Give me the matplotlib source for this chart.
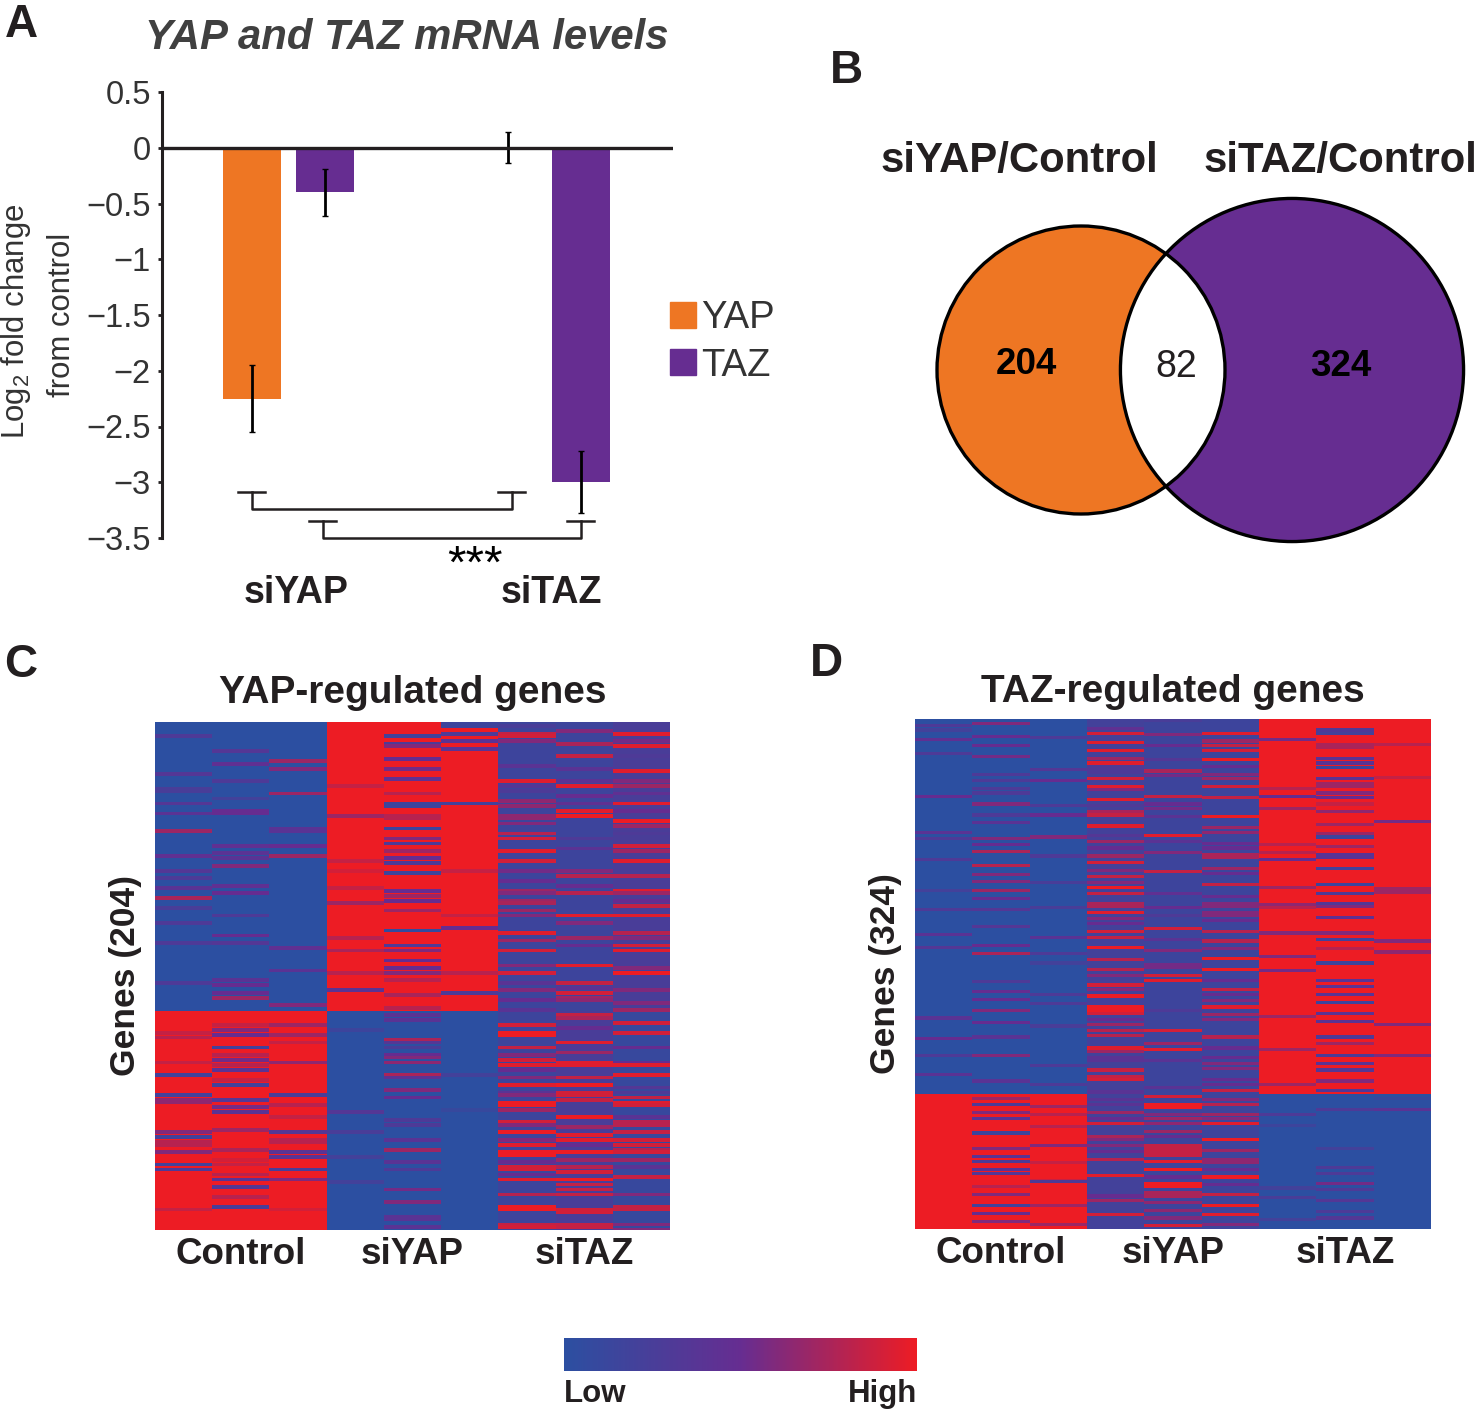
#YAP and TAZ knockdown figure, four panels
import numpy as np
import matplotlib
matplotlib.use('Agg')
import matplotlib.pyplot as plt
from matplotlib.colors import LinearSegmentedColormap
from matplotlib.patches import Circle, Patch

plt.rcParams['font.family'] = ['Liberation Sans', 'DejaVu Sans']
plt.rcParams['mathtext.default'] = 'regular'

W, H = 1478, 1412
ORANGE = '#EE7623'
PURPLE = '#662D91'
DARK = '#231F20'

#panel A
groups = ['siYAP', 'siTAZ']
series = ['YAP', 'TAZ']
yap_means = [-2.25, 0.0]
taz_means = [-0.40, -3.0]
yap_errs = [0.30, 0.14]
taz_errs = [0.21, 0.28]
y_ticks = [0.5, 0, -0.5, -1, -1.5, -2, -2.5, -3, -3.5]
y_tick_labels = ['0.5', '0', '\u22120.5', '\u22121', '\u22121.5', '\u22122', '\u22122.5', '\u22123', '\u22123.5']

#panel B
only_yap = 204
both = 82
only_taz = 324

#panels C and D
samples = ['Control', 'siYAP', 'siTAZ']
c_rows = 204
c_split = 116
d_rows = 324
d_split = 238
#base level of each column above and below the split
c_base_top = [0, 0, 0, 1, 1, 1, .15, .15, .25]
c_base_bottom = [1, 1, 1, 0, 0, 0, .15, .25, .1]
d_base_top = [0, 0, 0, .2, .15, .15, 1, 1, 1]
d_base_bottom = [1, 1, 1, .2, .15, .15, 0, 0, 0]

c_stripes = [
    [(5,.3),(20,.35),(26,.25),(27,.25),(32,.35),(36,.4),(43,.7),(53,.45),(59,.35),(62,.3),(66,.4),(70,.75),(74,.25),(80,.3),(88,.3),(104,.3),
     (124,.85),(126,.8),(136,.85),(141,.2),(149,.2),(151,.65),(152,.65),(164,.6),(166,.2),(168,.8),(169,.8),(172,.6),(177,.2),(179,.3),(195,.85)],
    [(11,.35),(16,.45),(23,.3),(30,.2),(35,.5),(36,.5),(49,.45),(52,.4),(54,.4),(57,.6),(65,.45),(68,.5),(77,.3),(85,.5),(88,.35),(103,.4),(105,.5),(108,.5),(110,.7),
     (121,.85),(123,.6),(125,.5),(130,.2),(133,.8),(135,.55),(137,.8),(139,.4),(143,.85),(145,.2),(151,.35),(154,.55),(156,.4),(163,.7),(171,.75),(175,.9),(177,.85),(181,.8),(183,.4),(186,.35),(190,.8),(194,.25)],
    [(15,.7),(18,.6),(28,.7),(42,.4),(43,.4),(49,.5),(53,.7),(90,.45),(99,.4),(113,.6),
     (121,.7),(125,.7),(128,.85),(136,.65),(149,.25),(153,.8),(158,.85),(164,.35),(167,.8),(168,.8),(172,.4),(174,.4),(179,.25),(183,.6),(195,.9)],
    [(25,.85),(37,.7),(55,.85),(59,.9),(66,.85),(72,.7),(86,.8),(91,.75),(100,.8),(107,.4),
     (123,.15),(156,.35),(164,.25),(174,.2),(184,.2)],
    [(5,.2),(8,.3),(9,.6),(14,.5),(18,.55),(22,.45),(28,.8),(32,.15),(33,.15),(37,.8),(38,.8),(42,.15),(46,.6),(48,.3),(51,.7),(54,.5),(56,.3),(60,.15),(67,.5),(69,.7),(71,.5),(75,.7),(83,.05),(89,.3),(91,.6),(95,.5),(98,.5),(100,.6),(103,.8),(109,.75),(114,.8),
     (117,.4),(119,.4),(127,.75),(128,.35),(130,.25),(133,.5),(134,.6),(136,.65),(141,.75),(142,.4),(147,.6),(150,.5),(159,.3),(161,.3),(167,.4),(171,.7),(176,.4),(179,.3),(187,.55),(192,.6),(198,.4),(199,.4),(202,.4)],
    [(0,.15),(1,.15),(4,.3),(7,.4),(10,.4),(32,.2),(59,.85),(77,.85),(82,.5),(100,.8),(108,.3),
     (141,.2),(155,.1)],
    [(1,.25),(4,.85),(5,.9),(7,.6),(17,.4),(23,.95),(25,.35),(27,.3),(31,.65),(33,.65),(37,.65),(38,.65),(40,.6),(44,.8),(46,.9),(51,.95),(55,.9),(59,.55),(63,.5),(67,.7),(68,.6),(71,.7),(72,.75),(75,.7),(77,.6),(84,.95),(87,.7),(91,.9),(97,.6),(100,.9),(104,.4),(107,.6),(111,.5),(115,.4),
     (121,.9),(124,1),(125,1),(130,.85),(133,.6),(135,.9),(137,.95),(139,.5),(142,.6),(145,.95),(148,.4),(149,.6),(152,1),(153,1),(155,.7),(160,.9),(161,.6),(164,1),(167,.6),(169,.95),(172,1),(173,1),(176,.5),(178,.9),(179,.9),(181,.5),(183,.95),(189,.8),(194,1),(195,1),(201,.85),(202,.9)],
    [(3,.6),(8,.75),(13,.85),(18,.4),(23,.4),(25,.95),(29,.5),(32,.45),(35,.95),(37,1),(46,.3),(50,.4),(59,.6),(61,.8),(65,.5),(68,.8),(77,.95),(80,.6),(86,.7),(89,.5),(97,.95),(104,.85),(106,.4),(108,.9),(110,.7),(111,.65),
     (117,.85),(118,.75),(122,.5),(128,.95),(130,.3),(132,.7),(136,.95),(137,.95),(142,.85),(145,1),(148,.9),(149,.9),(151,.85),(158,1),(162,.7),(165,.95),(167,.95),(169,.5),(172,1),(175,.7),(178,.8),(180,.9),(183,1),(185,.85),(187,.85),(189,.85),(195,.9),(196,.9),(201,.85),(202,.85)],
    [(4,.95),(7,.55),(9,.95),(13,.3),(19,.95),(23,.6),(25,.7),(28,.45),(32,.95),(35,.5),(39,1),(41,.7),(44,.3),(49,.9),(51,.7),(55,.95),(61,.8),(67,.95),(68,.7),(71,.5),(73,.85),(77,.95),(84,.8),(86,.6),(89,.9),(91,.95),(98,.6),(100,1),(107,.6),(112,.6),(115,.7),
     (120,.9),(124,.9),(130,.5),(136,.5),(137,.95),(141,.95),(146,.35),(148,.3),(150,.85),(152,.95),(153,.9),(158,.4),(160,.8),(161,.8),(164,.85),(167,.9),(169,.9),(171,.8),(172,.9),(175,.7),(178,.4),(182,.85),(189,.6),(194,.85),(195,.85),(201,.6),(203,.6)],
]

d_stripes = [
    [(3,.3),(6,.2),(12,.45),(21,.3),(48,.5),(71,.4),(75,.3),(88,.3),(108,.2),(120,.3),(136,.4),(144,.35),(189,.4),(202,.5),(213,.3),(225,.4)],
    [(2,.6),(10,.5),(16,.5),(23,.55),(34,.3),(38,.3),(43,.3),(46,.3),(53,.6),(60,.3),(65,.4),(75,.6),(79,.5),(83,.75),(92,.8),(98,.6),(102,.6),(108,.7),(113,.5),(120,.35),(131,.35),(143,.5),(148,.75),(166,.3),(172,.5),(177,.5),(184,.6),(192,.5),(201,.4),(213,.6),(229,.4),
     (240,.7),(244,.3),(249,.6),(253,.4),(262,.15),(272,.6),(277,.4),(280,.3),(285,.4),(288,.35),(296,.8),(301,.6),(308,.2),(313,.5),(318,.6)],
    [(11,.3),(31,.35),(38,.5),(54,.3),(60,.5),(74,.6),(86,.3),(103,.25),(119,.25),(138,.4),(148,.3),(154,.2),(174,.3),(180,.3),(194,.25),(219,.3),(231,.3),
     (245,.7),(250,.8),(258,.8),(270,.6),(281,.85),(292,.85),(293,.3),(308,.7),(320,.7)],
    [(5,.45),(8,.9),(14,.95),(19,.95),(24,.7),(27,.95),(29,.3),(31,.3),(33,.3),(37,.9),(42,.95),(44,.6),(50,.95),(54,.3),(58,.75),(60,.85),(67,.95),(73,.35),(77,.7),(81,.5),(86,.7),(90,.9),(95,.6),(99,.85),(103,.6),(106,1),(110,.85),(116,.75),(118,.75),(122,.95),(126,.6),(129,.5),(134,.9),(138,.85),(144,1),(152,.8),(158,.8),(162,.6),
     (168,.9),(171,.6),(175,1),(182,1),(184,1),(186,.9),(190,.5),(193,.7),(197,.8),(200,.8),(208,.95),(210,.7),(214,.4),(216,.4),(222,.85),(226,.85),(228,.9),(236,.4),
     (241,.4),(244,.4),(249,.7),(253,.5),(256,.9),(264,.75),(266,.6),(270,.6),(274,.5),(279,.8),(289,.95),(302,.5),(305,.7),(314,.9)],
    [(0,.25),(9,.6),(16,.5),(25,.35),(32,.75),(35,.55),(48,.85),(53,.5),(56,.55),(61,.4),(73,.95),(77,.4),(84,.6),(96,.85),(110,.45),(119,.5),(124,.3),(132,.9),(139,.4),(146,.6),(155,.55),(157,.55),(162,.9),(165,.95),(184,.3),(197,.9),(205,.7),(209,.95),(216,.4),(233,.4),
     (239,.9),(244,1),(246,1),(250,.6),(253,.7),(256,.65),(261,.7),(264,.5),(270,.85),(272,.85),(274,.85),(276,.85),(280,.95),(285,1),(290,.5),(294,1),(296,1),(300,.75),(302,.75),(306,.65),(311,.65),(316,.6),(321,.9)],
    [(8,.95),(13,.7),(16,.85),(19,.9),(25,1),(29,.5),(34,.6),(37,.7),(42,.9),(49,.85),(61,1),(68,.7),(71,.65),(78,.5),(81,.5),(85,.75),(87,.75),(94,.7),(97,.5),(104,.85),(112,.5),(116,.6),(118,.6),(122,.6),(124,.6),(127,.5),(134,.8),(140,.8),(145,.6),(151,1),(158,1),(165,.5),(171,.85),(174,.5),(178,.6),(182,.95),(187,.7),(190,.6),(201,.8),(208,.5),(214,.5),(218,.6),(221,.6),(228,.5),(231,.5),(235,.85),
     (241,.6),(244,.8),(250,.7),(253,.6),(256,.95),(266,1),(273,.7),(279,.65),(281,.65),(285,.5),(290,1),(295,.5),(301,.85),(308,1),(314,.95),(320,.6)],
    [(12,.55),(43,.8),(48,.5),(56,.7),(79,.8),(84,.8),(88,.5),(106,.7),(117,.65),(119,.8),(135,.6),(150,.6),(159,.55),(188,.7),(209,.7),(231,.7),
     (250,.3),(257,.15),(297,.2),(303,.25),(317,.2)],
    [(6,.3),(8,.2),(15,.75),(17,.75),(24,.4),(27,.4),(30,.15),(37,.4),(40,.7),(42,.7),(46,.6),(49,.5),(53,.85),(58,.65),(66,.7),(72,.7),(74,.15),(80,.7),(85,.4),(87,.4),(94,.2),(104,.15),(110,.3),(116,.35),(118,.6),(125,.45),(135,.6),(139,.2),(145,.8),(154,.15),(165,.4),(169,.4),(174,.4),(179,.15),(186,.4),(191,.4),(201,.3),(205,.7),(213,.3),(218,.4),(222,.35),(229,.6),(235,.35),
     (247,.3),(272,.2),(284,.3),(288,.3),(294,.55),(298,.3),(305,.35),(312,.3),(316,.35)],
    [(15,.8),(36,.85),(64,.55),(107,.7),(109,.7),(140,.6),(147,.65),(193,.6),(213,.6),
     (240,.1),(247,.4)],
]


#pixel box of the reference to figure fractions
def box(x0, y0, x1, y1):
    return [x0 / W, 1 - y1 / H, (x1 - x0) / W, (y1 - y0) / H]


#build one heatmap matrix on a half row grid, thick is how many half rows a stripe covers
def build(rows, split, top, bottom, stripes, thick):
    m = np.zeros((rows * 2, len(stripes)))
    for j, col in enumerate(stripes):
        m[:split * 2, j] = top[j]
        m[split * 2:, j] = bottom[j]
        for r, v in col:
            m[r * 2:r * 2 + thick, j] = v
    return m


fig = plt.figure(figsize=(W / 100, H / 100), dpi=100)
cmap = LinearSegmentedColormap.from_list('lowhigh', ['#2C4FA1', '#662D91', '#ED1C24'])

#overlay in pixels for the venn and the free text
page = fig.add_axes([0, 0, 1, 1])
page.set_xlim(0, W)
page.set_ylim(H, 0)
page.axis('off')

for letter, x, y in [('A', 21, 25), ('B', 846, 71), ('C', 21, 665), ('D', 826, 664)]:
    page.text(x, y, letter, fontsize=33, fontweight='bold', color=DARK, ha='center', va='center')

#panel A bars
ax = fig.add_axes(box(162, 92, 673, 538))
pos = np.arange(len(groups))
off = 36.5 / 256
width = 58 / 256
ax.bar(pos - off, yap_means, width, color=ORANGE, yerr=yap_errs, ecolor='black', error_kw={'lw': 2, 'capsize': 2})
ax.bar(pos + off, taz_means, width, color=PURPLE, yerr=taz_errs, ecolor='black', error_kw={'lw': 2, 'capsize': 2})
ax.axhline(0, color=DARK, lw=2.4, zorder=3)
ax.set_xlim(-0.494, 1.502)
ax.set_ylim(-3.5, 0.5)
ax.set_yticks(y_ticks, y_tick_labels, fontsize=23.5, color='#333333')
ax.set_xticks([])
for side in ['top', 'right', 'bottom']:
    ax.spines[side].set_visible(False)
ax.spines['left'].set_linewidth(2.2)
ax.spines['left'].set_color(DARK)
ax.tick_params(axis='y', length=3, width=2, pad=5, color=DARK)
ax.patch.set_alpha(0)

#significance brackets, each goes from a bar in siYAP to the same gene in siTAZ
stub = 13.5 / 256
for x0, x1, y_stub, y_line in [(pos[0] - off, pos[1] - off + 4 / 256, -3.085, -3.24), (pos[0] + off - 2 / 256, pos[1] + off, -3.345, -3.5)]:
    ax.plot([x0, x0, x1, x1], [y_stub, y_line, y_line, y_stub], color=DARK, lw=1.8, clip_on=False)
    ax.plot([x0 - stub, x0 + stub], [y_stub, y_stub], color=DARK, lw=1.8, clip_on=False)
    ax.plot([x1 - stub, x1 + stub], [y_stub, y_stub], color=DARK, lw=1.8, clip_on=False)

page.text(475, 566, '***', fontsize=34, color='black', ha='center', va='center')
page.text(296, 593, groups[0], fontsize=27, fontweight='bold', color=DARK, ha='center', va='center')
page.text(551, 593, groups[1], fontsize=27, fontweight='bold', color=DARK, ha='center', va='center')
page.text(407, 38, 'YAP and TAZ mRNA levels', fontsize=30.2, fontweight='bold', fontstyle='italic',
          color='#404040', ha='center', va='center')
page.text(16, 321, 'Log$_2$ fold change', fontsize=22.4, color='#333333', rotation=90, ha='center', va='center')
page.text(62, 315, 'from control', fontsize=22.4, color='#333333', rotation=90, ha='center', va='center')

fig.legend(handles=[Patch(color=ORANGE, label=series[0]), Patch(color=PURPLE, label=series[1])],
           loc='center left', bbox_to_anchor=(636 / W, 1 - 342 / H), frameon=False, fontsize=27.5,
           handlelength=0.68, handleheight=0.68, handletextpad=0.12, labelspacing=0.3, labelcolor='#333333')

#panel B venn, circle area follows the gene count
k = 144 / np.sqrt(only_yap + both)
r_yap = k * np.sqrt(only_yap + both)
r_taz = k * np.sqrt(only_taz + both)
cx_yap, cx_taz, cy = 1081, 1292, 370
page.add_patch(Circle((cx_yap, cy), r_yap, color=ORANGE, lw=0))
page.add_patch(Circle((cx_taz, cy), r_taz, color=PURPLE, lw=0))
overlap = Circle((cx_yap, cy), r_yap, color='white', lw=0)
page.add_patch(overlap)
overlap.set_clip_path(Circle((cx_taz, cy), r_taz, transform=page.transData))
page.add_patch(Circle((cx_yap, cy), r_yap, fc='none', ec='black', lw=2.4))
page.add_patch(Circle((cx_taz, cy), r_taz, fc='none', ec='black', lw=2.4))
page.text(1026, 365, str(only_yap), fontsize=26.5, fontweight='bold', color='black', ha='center', va='center')
page.text(1176, 367, str(both), fontsize=27, color=DARK, ha='center', va='center')
page.text(1341, 367, str(only_taz), fontsize=26.5, fontweight='bold', color='black', ha='center', va='center')
page.text(1019, 161, 'siYAP/Control', fontsize=30.2, fontweight='bold', color=DARK, ha='center', va='center')
page.text(1340, 161, 'siTAZ/Control', fontsize=30.2, fontweight='bold', color=DARK, ha='center', va='center')

#panels C and D heatmaps
panels = [
    (box(155, 722, 670, 1230), build(c_rows, c_split, c_base_top, c_base_bottom, c_stripes, 3), 'YAP-regulated genes', c_rows, 14),
    (box(915, 719, 1431, 1229), build(d_rows, d_split, d_base_top, d_base_bottom, d_stripes, 4), 'TAZ-regulated genes', d_rows, 12),
]
for rect, matrix, title, n, title_pad in panels:
    hm = fig.add_axes(rect)
    im = hm.imshow(matrix, aspect='auto', cmap=cmap, vmin=0, vmax=1, interpolation='nearest')
    hm.set_xticks([1, 4, 7], samples, fontsize=26.5, fontweight='bold', color=DARK)
    hm.set_yticks([])
    hm.tick_params(axis='x', length=0, pad=5)
    hm.set_title(title, fontsize=28, fontweight='bold', color=DARK, pad=title_pad)
    hm.set_ylabel('Genes (%d)' % n, fontsize=25.5, fontweight='bold', color=DARK, labelpad=9)
    for s in hm.spines.values():
        s.set_visible(False)

#shared colour key
cax = fig.add_axes(box(564, 1338, 917, 1371))
cbar = fig.colorbar(im, cax=cax, orientation='horizontal')
cbar.set_ticks([0, 1], labels=['Low', 'High'])
cbar.outline.set_visible(False)
cax.tick_params(axis='x', length=0, pad=6)
for lab, align in zip(cax.get_xticklabels(), ['left', 'right']):
    lab.set_ha(align)
    lab.set_fontsize(22.5)
    lab.set_fontweight('bold')
    lab.set_color(DARK)

fig.savefig('out.png', dpi=100)
